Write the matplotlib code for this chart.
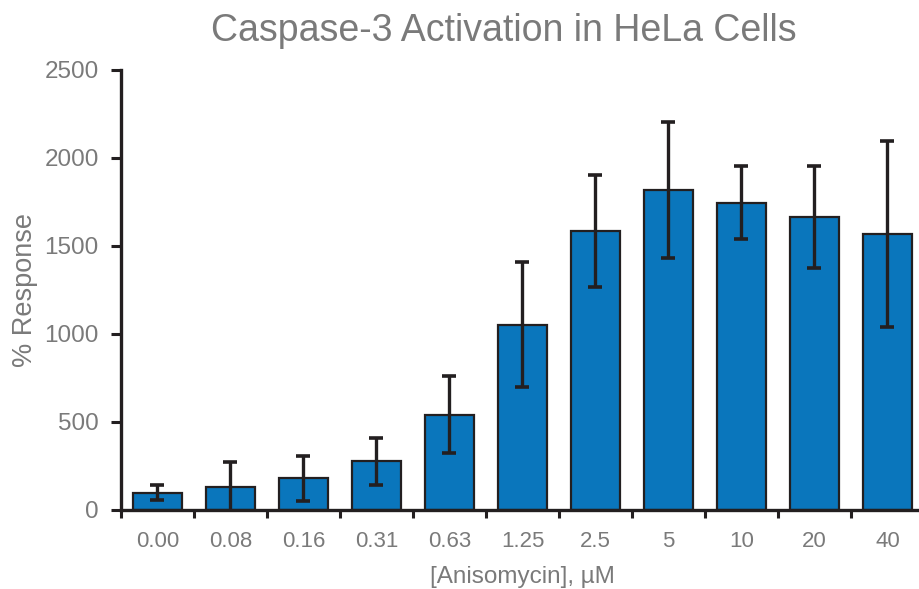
import matplotlib
matplotlib.use("Agg")
import matplotlib.pyplot as plt
import numpy as np

concentrations = ["0.00", "0.08", "0.16", "0.31", "0.63", "1.25", "2.5", "5", "10", "20", "40"]
response = [99, 133, 180, 277, 542, 1053, 1585, 1820, 1746, 1665, 1570]
response_err = [44, 138, 129, 134, 219, 356, 317, 387, 209, 288, 529]

bar_color = "#0a76bc"
edge_color = "#231f20"
text_color = "#7a7a7a"

plt.rcParams["font.family"] = ["Liberation Sans", "DejaVu Sans"]

fig = plt.figure(figsize=(9.2, 5.89), dpi=100)
ax = fig.add_axes([121 / 920, 79 / 589, 803 / 920, 440 / 589])

x = np.arange(len(concentrations))
ax.bar(x, response, width=0.67, color=bar_color, edgecolor=edge_color, linewidth=1.6, zorder=2)
ax.errorbar(x, response, yerr=response_err, fmt="none", ecolor=edge_color,
            elinewidth=2.4, capsize=5, capthick=2.6, zorder=3)

ax.set_xlim(-0.5, len(concentrations) - 0.5)
ax.set_ylim(0, 2500)
ax.set_yticks(range(0, 2501, 500))

# ticks sit between the categories, labels under each bar
ax.set_xticks(np.arange(len(concentrations) + 1) - 0.5)
ax.set_xticklabels([])
ax.set_xticks(x, minor=True)
ax.set_xticklabels(concentrations, minor=True, fontsize=16, color=text_color)
ax.tick_params(axis="x", which="minor", length=0, pad=15)
ax.tick_params(axis="x", which="major", length=6, width=2.2, color=edge_color, direction="out")
ax.tick_params(axis="y", length=7, width=2.2, color=edge_color, labelsize=17.5, labelcolor=text_color, pad=9)

for side in ["top", "right"]:
    ax.spines[side].set_visible(False)
for side in ["left", "bottom"]:
    ax.spines[side].set_linewidth(2.4)
    ax.spines[side].set_color(edge_color)

ax.set_xlabel("[Anisomycin], µM", fontsize=17.5, color=text_color, labelpad=10)
fig.text(25 / 920, 0.508, "% Response", fontsize=19.5, color=text_color,
         rotation=90, ha="center", va="center")
fig.text(0.548, 0.947, "Caspase-3 Activation in HeLa Cells", fontsize=27, color=text_color,
         ha="center", va="center")

fig.savefig("out.png", dpi=100)
